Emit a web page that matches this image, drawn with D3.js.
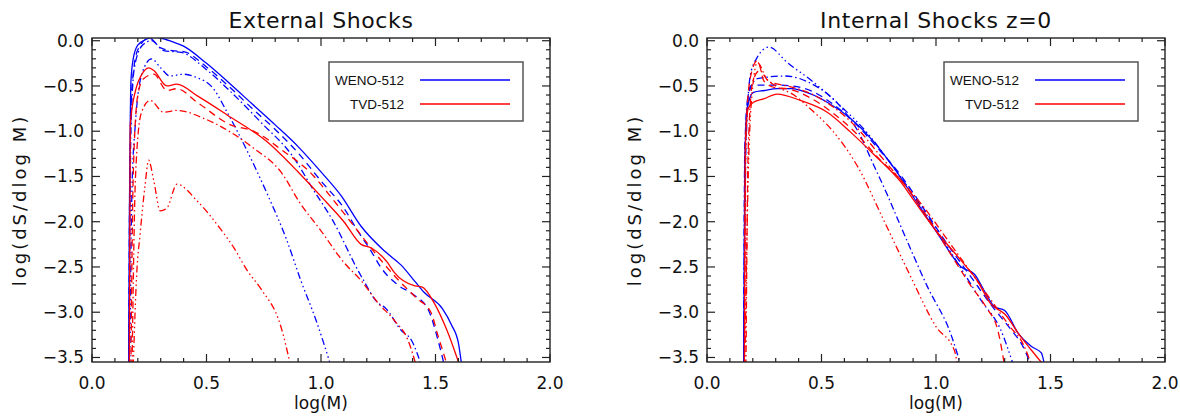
<!doctype html>
<html>
<head>
<meta charset="utf-8">
<style>
  body { margin: 0; background: #fff; }
  svg text { font-family: "DejaVu Sans", sans-serif; fill: #111; }
  .frame { fill: none; stroke: #222; stroke-width: 1.4; }
  .tick { stroke: #222; stroke-width: 1.2; }
  .curve { fill: none; stroke-width: 1.3; }
</style>
</head>
<body>
<div id="vis"></div>
<script src="https://d3js.org/d3.v7.min.js"></script>
<script>
// axis setup
var xDomain = [0, 2];
var yDomain = [-3.55, 0.03];
var xTickLabels = [0, 0.5, 1.0, 1.5, 2.0];
var yTickLabels = [0, -0.5, -1.0, -1.5, -2.0, -2.5, -3.0, -3.5];
var legendNames = ['WENO-512', 'TVD-512'];
var panelTitles = ['External Shocks', 'Internal Shocks z=0'];

// External shocks, WENO-512 (blue)
var extWenoSolid = [[0.160,-3.6],[0.163,-2.0],[0.167,-0.9],[0.170,-0.45],[0.18,-0.2],[0.2,-0.05],[0.24,0.02],[0.27,0.04],[0.3,0.03],[0.35,-0.01],[0.4,-0.06],[0.5,-0.25],[0.6,-0.47],[0.7,-0.7],[0.8,-0.93],[0.9,-1.17],[1.0,-1.45],[1.09,-1.72],[1.175,-2.05],[1.28,-2.33],[1.35,-2.48],[1.41,-2.66],[1.45,-2.78],[1.53,-2.96],[1.57,-3.14],[1.6,-3.34],[1.615,-3.6]];
var extWenoDash = [[0.161,-3.6],[0.165,-1.5],[0.175,-0.5],[0.2,-0.1],[0.25,0.03],[0.3,-0.08],[0.35,-0.11],[0.4,-0.12],[0.5,-0.29],[0.6,-0.51],[0.7,-0.75],[0.8,-0.98],[0.9,-1.24],[1.0,-1.55],[1.1,-1.85],[1.16,-2.1],[1.22,-2.33],[1.26,-2.5],[1.336,-2.7],[1.4,-2.8],[1.47,-2.98],[1.51,-3.3],[1.54,-3.6]];
var extWenoDashDot = [[0.162,-3.6],[0.17,-1.0],[0.185,-0.3],[0.22,-0.05],[0.26,0.0],[0.313,-0.11],[0.39,-0.13],[0.5,-0.32],[0.6,-0.55],[0.737,-0.9],[0.883,-1.3],[0.96,-1.62],[1.05,-1.98],[1.175,-2.6],[1.25,-2.9],[1.28,-2.95],[1.35,-3.2],[1.395,-3.31],[1.44,-3.6]];
var extWenoDash3Dot = [[0.165,-3.6],[0.175,-1.6],[0.19,-0.9],[0.22,-0.35],[0.26,-0.2],[0.3,-0.3],[0.34,-0.39],[0.4,-0.37],[0.45,-0.4],[0.53,-0.53],[0.59,-0.79],[0.68,-1.23],[0.77,-1.72],[0.85,-2.2],[0.912,-2.65],[0.98,-3.1],[1.044,-3.6]];

// External shocks, TVD-512 (red)
var extTvdSolid = [[0.163,-3.6],[0.167,-0.93],[0.19,-0.55],[0.218,-0.37],[0.247,-0.3],[0.27,-0.33],[0.327,-0.5],[0.37,-0.48],[0.46,-0.61],[0.59,-0.82],[0.766,-1.12],[0.9,-1.45],[1.0,-1.72],[1.1,-2.0],[1.175,-2.25],[1.22,-2.29],[1.29,-2.45],[1.32,-2.56],[1.41,-2.71],[1.44,-2.72],[1.497,-2.91],[1.55,-3.2],[1.607,-3.6]];
var extTvdDash = [[0.17,-3.6],[0.18,-1.5],[0.2,-0.6],[0.225,-0.42],[0.27,-0.37],[0.327,-0.55],[0.37,-0.53],[0.459,-0.68],[0.605,-0.93],[0.707,-1.0],[0.825,-1.2],[0.97,-1.5],[1.035,-1.7],[1.16,-2.1],[1.26,-2.42],[1.34,-2.65],[1.42,-2.85],[1.48,-3.0],[1.51,-3.25],[1.553,-3.6]];
var extTvdDashDot = [[0.175,-3.6],[0.19,-1.5],[0.215,-0.8],[0.254,-0.66],[0.313,-0.79],[0.37,-0.77],[0.49,-0.86],[0.605,-1.01],[0.707,-1.19],[0.825,-1.45],[0.91,-1.8],[1.0,-2.1],[1.1,-2.45],[1.175,-2.65],[1.25,-2.9],[1.32,-3.09],[1.38,-3.31],[1.417,-3.6]];
var extTvdDash3Dot = [[0.18,-3.6],[0.196,-2.54],[0.21,-2.14],[0.232,-1.59],[0.247,-1.32],[0.27,-1.55],[0.298,-1.88],[0.327,-1.85],[0.371,-1.585],[0.459,-1.77],[0.561,-2.08],[0.62,-2.29],[0.678,-2.54],[0.737,-2.74],[0.825,-3.16],[0.868,-3.6]];

// Internal shocks z=0, WENO-512 (blue)
var intWenoSolid = [[0.16,-3.6],[0.165,-1.4],[0.175,-0.75],[0.203,-0.57],[0.25,-0.55],[0.306,-0.53],[0.371,-0.53],[0.408,-0.55],[0.525,-0.68],[0.627,-0.86],[0.73,-1.12],[0.82,-1.42],[0.92,-1.8],[1.02,-2.18],[1.11,-2.5],[1.168,-2.58],[1.21,-2.76],[1.256,-2.94],[1.3,-2.98],[1.358,-3.23],[1.417,-3.38],[1.46,-3.45],[1.475,-3.6]];
var intWenoDash = [[0.161,-3.6],[0.165,-1.5],[0.175,-0.8],[0.19,-0.5],[0.23,-0.49],[0.3,-0.49],[0.37,-0.5],[0.46,-0.56],[0.55,-0.7],[0.65,-0.92],[0.75,-1.2],[0.85,-1.5],[0.95,-1.87],[1.05,-2.25],[1.15,-2.6],[1.25,-2.95],[1.33,-3.2],[1.38,-3.38],[1.417,-3.6]];
var intWenoDashDot = [[0.16,-3.6],[0.165,-1.2],[0.18,-0.6],[0.22,-0.42],[0.34,-0.39],[0.46,-0.48],[0.58,-0.72],[0.67,-1.05],[0.72,-1.33],[0.787,-1.7],[0.846,-2.05],[0.963,-2.72],[1.066,-3.25],[1.11,-3.6]];
var intWenoDash3Dot = [[0.162,-3.6],[0.17,-1.2],[0.19,-0.37],[0.218,-0.19],[0.27,-0.07],[0.35,-0.24],[0.466,-0.46],[0.583,-0.72],[0.7,-1.02],[0.8,-1.35],[0.9,-1.7],[1.0,-2.08],[1.1,-2.48],[1.2,-2.88],[1.28,-3.18],[1.34,-3.6]];

// Internal shocks z=0, TVD-512 (red)
var intTvdSolid = [[0.163,-3.6],[0.167,-1.2],[0.18,-0.75],[0.203,-0.68],[0.25,-0.64],[0.306,-0.59],[0.408,-0.66],[0.525,-0.79],[0.627,-1.01],[0.73,-1.26],[0.846,-1.56],[0.905,-1.77],[1.0,-2.1],[1.11,-2.43],[1.18,-2.65],[1.24,-2.91],[1.3,-3.02],[1.37,-3.27],[1.417,-3.42],[1.475,-3.6]];
var intTvdDash = [[0.164,-3.6],[0.17,-1.0],[0.19,-0.4],[0.22,-0.22],[0.25,-0.45],[0.3,-0.52],[0.35,-0.53],[0.45,-0.63],[0.55,-0.8],[0.65,-1.02],[0.75,-1.3],[0.85,-1.55],[0.95,-1.9],[1.05,-2.3],[1.15,-2.7],[1.22,-2.95],[1.27,-3.2],[1.3,-3.6]];
var intTvdDashDot = [[0.17,-3.6],[0.18,-1.2],[0.2,-0.45],[0.23,-0.33],[0.27,-0.45],[0.35,-0.5],[0.45,-0.58],[0.55,-0.73],[0.65,-0.95],[0.75,-1.25],[0.85,-1.55],[0.95,-1.85],[1.05,-2.2],[1.15,-2.55],[1.25,-2.9],[1.32,-3.15],[1.38,-3.35],[1.42,-3.6]];
var intTvdDash3Dot = [[0.165,-3.6],[0.18,-1.5],[0.2,-0.5],[0.22,-0.24],[0.26,-0.42],[0.3,-0.5],[0.38,-0.6],[0.45,-0.75],[0.55,-1.0],[0.66,-1.4],[0.773,-1.99],[0.89,-2.61],[1.0,-3.16],[1.08,-3.42],[1.095,-3.6]];

var dashStyles = { solid: null, dash: '7,5', dashDot: '7,3,1.5,3', dash3Dot: '7,3,1.5,3,1.5,3,1.5,3' };
var blue = '#0000ff', red = '#ff0000';

var panels = [
    { left: 92, title: panelTitles[0], series: [
        [extWenoSolid, blue, 'solid'], [extWenoDash, blue, 'dash'], [extWenoDashDot, blue, 'dashDot'], [extWenoDash3Dot, blue, 'dash3Dot'],
        [extTvdSolid, red, 'solid'], [extTvdDash, red, 'dash'], [extTvdDashDot, red, 'dashDot'], [extTvdDash3Dot, red, 'dash3Dot']
    ]},
    { left: 707, title: panelTitles[1], series: [
        [intWenoSolid, blue, 'solid'], [intWenoDash, blue, 'dash'], [intWenoDashDot, blue, 'dashDot'], [intWenoDash3Dot, blue, 'dash3Dot'],
        [intTvdSolid, red, 'solid'], [intTvdDash, red, 'dash'], [intTvdDashDot, red, 'dashDot'], [intTvdDash3Dot, red, 'dash3Dot']
    ]}
];

var W = 1180, H = 417, pw = 458, plotTop = 38, plotBottom = 362;

var svg = d3.select('#vis').append('svg').attr('width', W).attr('height', H);

panels.forEach(function(p, i){
    var x = d3.scaleLinear().domain(xDomain).range([p.left, p.left + pw]),
        y = d3.scaleLinear().domain(yDomain).range([plotBottom, plotTop]),
        g = svg.append('g');

    g.append('clipPath').attr('id', 'clip' + i).append('rect')
        .attr('x', p.left).attr('y', plotTop).attr('width', pw).attr('height', plotBottom - plotTop);

    var line = d3.line().x(function(d){ return x(d[0]); }).y(function(d){ return y(d[1]); }).curve(d3.curveMonotoneX);

    var plot = g.append('g').attr('clip-path', 'url(#clip' + i + ')');
    p.series.forEach(function(s){
        plot.append('path').attr('class', 'curve').datum(s[0]).attr('d', line)
            .style('stroke', s[1]).style('stroke-dasharray', dashStyles[s[2]]);
    });

    // ticks, pointing inward on all four sides
    var xMinor = d3.range(0, 2.0001, 0.1), yMinor = d3.range(-3.5, 0.0001, 0.1);
    xMinor.forEach(function(v){
        var major = Math.abs(v * 2 - Math.round(v * 2)) < 1e-6, len = major ? 8 : 4;
        g.append('line').attr('class', 'tick').attr('x1', x(v)).attr('x2', x(v)).attr('y1', plotBottom).attr('y2', plotBottom - len);
        g.append('line').attr('class', 'tick').attr('x1', x(v)).attr('x2', x(v)).attr('y1', plotTop).attr('y2', plotTop + len);
    });
    yMinor.forEach(function(v){
        var major = Math.abs(v * 2 - Math.round(v * 2)) < 1e-6, len = major ? 8 : 4;
        g.append('line').attr('class', 'tick').attr('y1', y(v)).attr('y2', y(v)).attr('x1', p.left).attr('x2', p.left + len);
        g.append('line').attr('class', 'tick').attr('y1', y(v)).attr('y2', y(v)).attr('x1', p.left + pw).attr('x2', p.left + pw - len);
    });

    g.append('rect').attr('class', 'frame').attr('x', p.left).attr('y', plotTop).attr('width', pw).attr('height', plotBottom - plotTop);

    g.selectAll('.xl').data(xTickLabels).enter().append('text')
        .attr('x', function(d){ return x(d); }).attr('y', plotBottom + 27)
        .style('text-anchor', 'middle').style('font-size', '17px').text(function(d){ return d.toFixed(1); });
    g.selectAll('.yl').data(yTickLabels).enter().append('text')
        .attr('x', p.left - 8).attr('y', function(d){ return y(d); }).attr('dy', '0.35em')
        .style('text-anchor', 'end').style('font-size', '17px').text(function(d){ return d.toFixed(1).replace('-', '\u2212'); });

    g.append('text').attr('x', p.left + pw / 2).attr('y', 28).style('text-anchor', 'middle')
        .style('font-size', '22px').style('letter-spacing', '0.6px').text(p.title);
    g.append('text').attr('x', p.left + pw / 2).attr('y', 409).style('text-anchor', 'middle')
        .style('font-size', '17px').text('log(M)');
    g.append('text').attr('transform', 'translate(' + (p.left - 66) + ',200) rotate(-90)').style('text-anchor', 'middle')
        .style('font-size', '18px').style('letter-spacing', '3px').text('log(dS/dlog M)');

    // legend
    var lx = p.left + 237, ly = 62;
    g.append('rect').attr('x', lx).attr('y', ly).attr('width', 194).attr('height', 59)
        .style('fill', 'none').style('stroke', '#555').style('stroke-width', 1.5);
    [blue, red].forEach(function(c, k){
        var yy = ly + 18 + k * 24;
        g.append('text').attr('x', lx + 75).attr('y', yy + 5).style('text-anchor', 'end')
            .style('font-family', '"Liberation Sans", Arial, sans-serif').style('font-size', '13.5px').text(legendNames[k]);
        g.append('line').attr('x1', lx + 91).attr('x2', lx + 181).attr('y1', yy).attr('y2', yy)
            .style('stroke', c).style('stroke-width', 1.3);
    });
});
</script>
</body>
</html>
